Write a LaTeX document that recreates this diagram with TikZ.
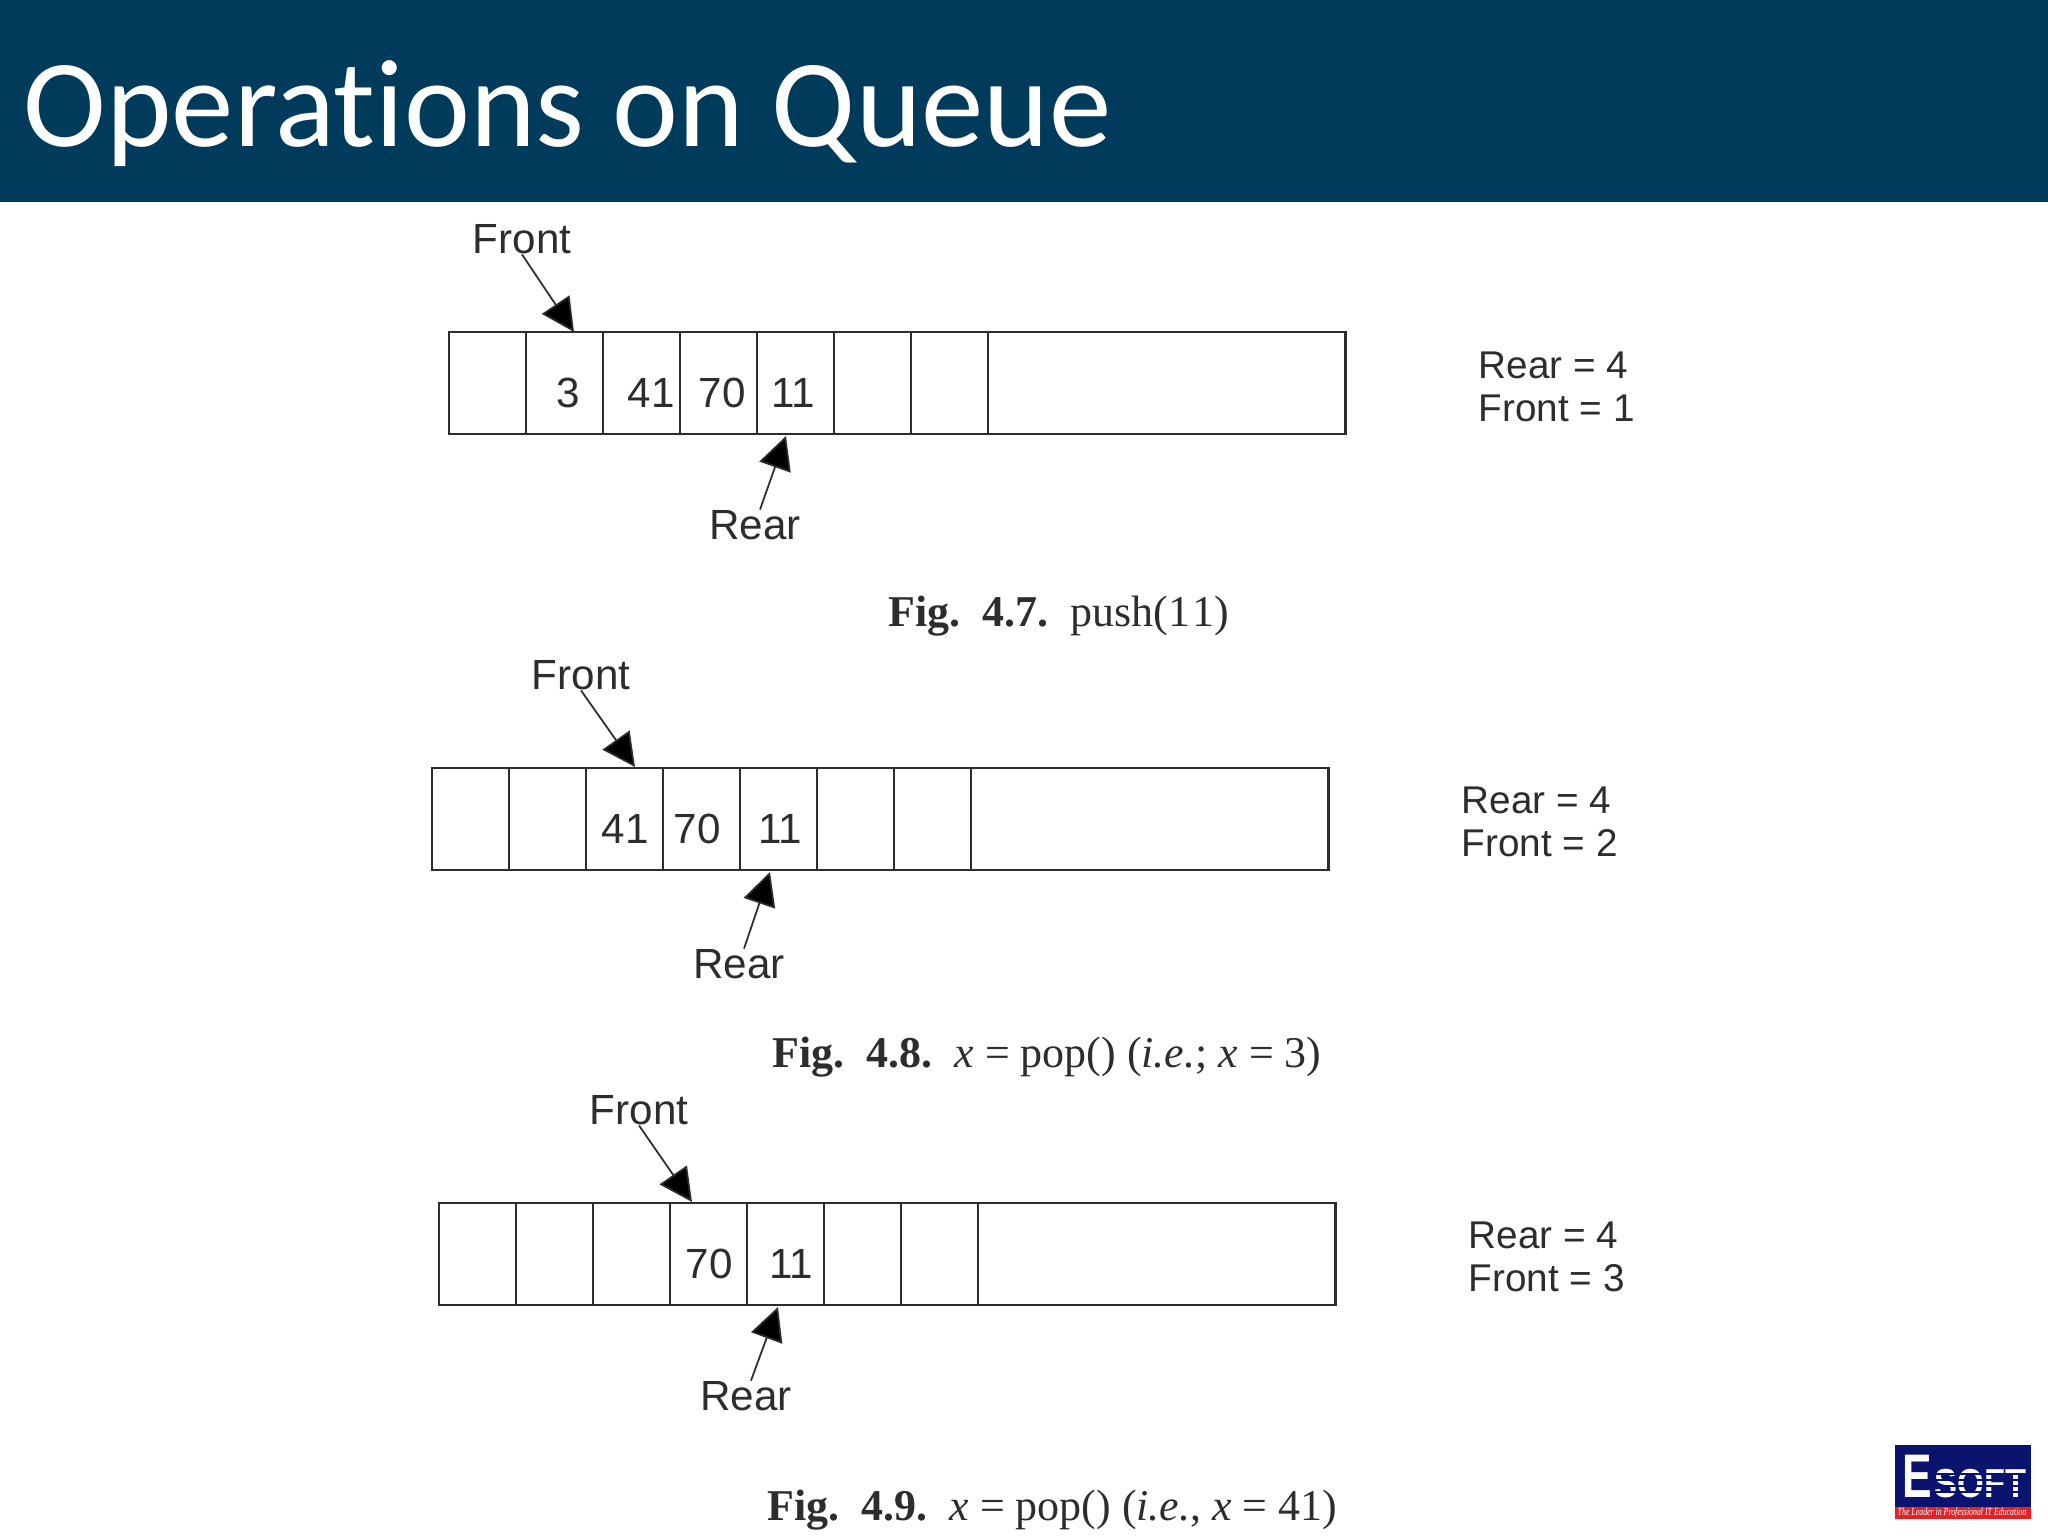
\documentclass[tikz,border=0pt]{standalone}
\usepackage{fontspec}
\usepackage{graphicx}
\setmainfont{Liberation Sans}
\newfontfamily\titlefont[Ligatures=NoCommon]{Carlito}
\newfontfamily\capfont{Liberation Serif}
\usetikzlibrary{arrows.meta}
\definecolor{barblue}{RGB}{0,59,92}
\definecolor{inkgrey}{RGB}{45,45,45}
\definecolor{logoblue}{RGB}{10,20,110}
\definecolor{logored}{RGB}{225,35,40}
\tikzset{
    cell/.style={draw=inkgrey, line width=0.8pt, anchor=north west, inner sep=0pt, outer sep=0pt, minimum width=0.77cm, minimum height=1.02cm},
    widecell/.style={cell, minimum width=3.57cm},
    lbl/.style={text=inkgrey, font=\fontsize{12}{14}\selectfont, inner sep=0pt},
    status/.style={lbl, anchor=west, font=\fontsize{11}{13}\selectfont},
    caption/.style={anchor=west, inner sep=0pt, text=inkgrey, font=\capfont\fontsize{12.5}{15}\selectfont},
    ptr/.style={-{Triangle[length=0.33cm, width=0.33cm, fill=black]}, draw=inkgrey, line width=0.5pt},
}

\begin{document}
\begin{tikzpicture}[x=0.01cm, y=-0.01cm]
    \useasboundingbox (0,0) rectangle (2048,1536);

    % title bar
    \fill[barblue] (0,0) rectangle (2048,202);
    \node[anchor=west, inner sep=0pt, text=white, font=\titlefont\fontsize{35.5}{40}\selectfont] (title) at (23,114) {Operations on Queue};

    % the three queues
    \foreach \r/\x/\y in {a/449/332, b/432/768, c/439/1203} {
        \foreach \i in {0,...,6} {
            \node[cell] (\r\i) at ({\x+\i*77},\y) {};
        }
        \node[widecell] (\r7) at ({\x+7*77},\y) {};
    }

    % values
    \foreach \n/\x/\y/\v in {va1/568/393/3, va2/651/393/41, va3/722/393/70, va4/793/393/11,
                             vb1/625/829/41, vb2/697/829/70, vb3/780/829/11,
                             vc1/709/1264/70, vc2/791/1264/11} {
        \node[lbl] (\n) at (\x,\y) {\v};
    }

    % front and rear labels
    \node[lbl] (fronta) at (522,239) {Front};
    \node[lbl] (frontb) at (581,675) {Front};
    \node[lbl] (frontc) at (639,1110) {Front};
    \node[lbl] (reara) at (755,525) {Rear};
    \node[lbl] (rearb) at (739,964) {Rear};
    \node[lbl] (rearc) at (746,1396) {Rear};

    \coordinate (tipfa) at (574,332);
    \coordinate (tipfb) at (635,767);
    \coordinate (tipfc) at (692,1202);
    \coordinate (tipra) at (786,436);
    \coordinate (tiprb) at (770,872);
    \coordinate (tiprc) at (778,1307);

    \draw[ptr] (fronta.south) -- (tipfa);
    \draw[ptr] (frontb.south) -- (tipfb);
    \draw[ptr] (frontc.south) -- (tipfc);
    \draw[ptr] ([xshift=0.05cm]reara.north) -- (tipra);
    \draw[ptr] ([xshift=0.05cm]rearb.north) -- (tiprb);
    \draw[ptr] ([xshift=0.05cm]rearc.north) -- (tiprc);

    % counters
    \node[status] (sra) at (1478,365) {Rear = 4};
    \node[status] (sfa) at (1478,408) {Front = 1};
    \node[status] (srb) at (1461,800) {Rear = 4};
    \node[status] (sfb) at (1461,843) {Front = 2};
    \node[status] (src) at (1468,1235) {Rear = 4};
    \node[status] (sfc) at (1468,1278) {Front = 3};

    % captions
    \node[caption] (capa) at (888,616) {\textbf{Fig.\ \ 4.7.}\ \ push({\addfontfeature{LetterSpace=9}11})};
    \node[caption] (capb) at (772,1057) {\textbf{Fig.\ \ 4.8.}\ \ \textit{x} = pop() (\textit{i.e.}; \textit{x} = 3)};
    \node[caption] (capc) at (767,1510) {\textbf{Fig.\ \ 4.9.}\ \ \textit{x} = pop() (\textit{i.e.}, \textit{x} = 41)};

    % logo
    \fill[logoblue] (1895,1445) rectangle (2031,1507);
    \fill[logored] (1895,1507) rectangle (2031,1519);
    \node[anchor=base west, inner sep=0pt, text=white, font=\bfseries\fontsize{17.5}{20}\selectfont] (logoe) at (1902,1497) {\scalebox{0.72}[1]{E}};
    \node[anchor=base west, inner sep=0pt, text=white, font=\bfseries\fontsize{11.5}{14}\selectfont] (logosoft) at (1934,1497) {\scalebox{0.85}[1]{SOFT}};
    \foreach \y in {1474,1480,1486,1492} {
        \draw[logoblue, line width=0.5pt] (1933,\y) -- (2027,\y);
    }
    \node[inner sep=0pt, text=white, font=\capfont\itshape\fontsize{3.1}{4}\selectfont] (logotag) at (1962,1513) {\scalebox{0.72}[1]{The Leader in Professional IT Education}};
\end{tikzpicture}
\end{document}
